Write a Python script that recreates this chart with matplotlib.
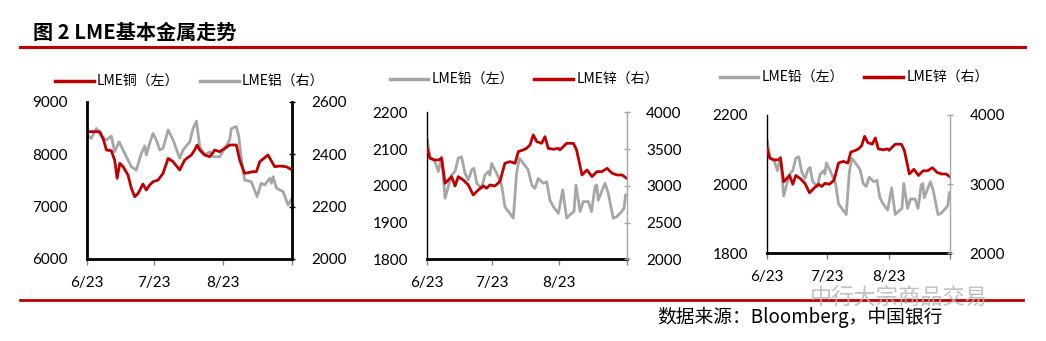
import matplotlib
matplotlib.use('Agg')
from matplotlib import pyplot as plt
from matplotlib.lines import Line2D

plt.rcParams['font.family'] = ['Noto Sans CJK SC', 'DejaVu Sans']

RED = '#C00000'
GRAY = '#A6A6A6'

# x values are days counted from 1 June 2023
month_ticks = [0, 30, 61, 92]
month_labels = ['6/23', '7/23', '8/23', '']

# panel 1: LME copper (left) and aluminium (right)
cu_day = [0, 5.7, 7.2, 8.7, 10.9, 12.4, 13.5, 14.7, 16.2, 18.4, 19.9, 21.4, 22.9,
          25.1, 26.6, 28.1, 29.6, 31.9, 34.1, 36.4, 38.6, 41.6, 43.8, 46.8, 48.3,
          49.4, 50.6, 52.8, 55.1, 57.3, 59.5, 61.8, 64.0, 67.0, 68.5, 70.7, 74.5,
          76.0, 77.5, 81.2, 84.2, 86.5, 89.5, 92.0]
cu_price = [8428, 8428, 8300, 8078, 8065, 7887, 7538, 7824, 7760, 7600, 7347, 7188,
            7250, 7430, 7315, 7411, 7474, 7506, 7633, 7919, 7856, 7697, 7887, 7983,
            8078, 8174, 8078, 7983, 7951, 8078, 8046, 8110, 8174, 8174, 7887, 7633,
            7665, 7665, 7856, 7983, 7760, 7773, 7760, 7697]

al_day = [0, 1.9, 4.2, 6.4, 8.7, 10.9, 12.4, 14.4, 16.9, 19.9, 22.1, 24.4, 25.9,
          26.6, 28.1, 29.6, 31.1, 32.6, 34.1, 36.4, 38.6, 41.6, 43.1, 46.1, 47.6,
          49.1, 50.6, 52.8, 55.1, 56.6, 59.5, 61.8, 64.0, 64.8, 67.0, 68.1, 69.3,
          70.7, 73.7, 76.3, 78.2, 79.7, 82.0, 82.7, 83.5, 85.0, 88.0, 90.2, 92.0]
al_price = [2473, 2460, 2498, 2467, 2454, 2469, 2409, 2447, 2403, 2352, 2339, 2403,
            2431, 2397, 2441, 2479, 2454, 2416, 2422, 2492, 2454, 2384, 2416, 2447,
            2498, 2526, 2428, 2397, 2409, 2390, 2390, 2422, 2454, 2498, 2505, 2467,
            2378, 2301, 2295, 2238, 2289, 2282, 2308, 2289, 2314, 2270, 2257, 2206,
            2231]

# panels 2 and 3: LME lead (left) and zinc (right)
pb_day = [0, 1.2, 3.5, 5.1, 6.6, 8.2, 9.7, 11.2, 12.8, 14.3, 15.8, 17.4, 18.9, 20.5,
          21.5, 22.8, 25.1, 26.6, 28.2, 28.9, 29.7, 32.0, 34.3, 35.8, 39.7, 41.2,
          42.5, 44.3, 46.6, 48.2, 49.7, 51.2, 53.5, 55.1, 56.6, 58.2, 60.5, 62.5,
          64.3, 65.8, 67.7, 68.6, 70.5, 72.0, 74.3, 75.8, 77.4, 78.2, 78.9, 82.0,
          83.5, 85.8, 87.4, 89.7, 90.8, 91.5]
pb_price = [2125, 2079, 2066, 2039, 2079, 1966, 1998, 2029, 2039, 2075, 2079, 2034,
            2016, 2043, 2048, 2007, 1993, 2029, 2039, 2029, 2061, 2034, 2002, 1943,
            1912, 2034, 2075, 2061, 2043, 2002, 1993, 2020, 2007, 2011, 1961, 1943,
            1925, 1989, 1912, 1921, 1930, 2002, 1930, 1957, 1957, 1930, 1998, 2002,
            1961, 2007, 1980, 1912, 1916, 1930, 1939, 1975]

zn_day = [0, 1.2, 3.5, 5.1, 6.6, 8.2, 9.7, 11.2, 12.8, 14.3, 16.6, 18.9, 21.2, 23.5,
          25.8, 27.4, 28.9, 31.2, 33.5, 35.8, 38.2, 40.5, 42.0, 44.3, 45.8, 47.4,
          48.9, 50.5, 52.8, 54.3, 55.8, 58.2, 60.5, 61.2, 64.3, 67.4, 68.9, 71.4,
          73.7, 76.0, 78.3, 80.6, 83.0, 85.3, 87.6, 89.9, 92.0]
zn_price = [3510, 3374, 3351, 3351, 3374, 3034, 3079, 3125, 2998, 3125, 3079, 3011,
            2875, 2943, 2998, 2966, 3011, 2998, 3057, 3306, 3329, 3306, 3465, 3488,
            3510, 3556, 3692, 3601, 3578, 3669, 3510, 3497, 3510, 3488, 3578, 3578,
            3488, 3147, 3215, 3125, 3193, 3193, 3238, 3170, 3147, 3147, 3102]


def style_axes(ax, ax2, right_color, spine_w):
    for s in ['top', 'right']:
        ax.spines[s].set_visible(False)
    for s in ['top', 'left', 'bottom']:
        ax2.spines[s].set_visible(False)
    ax.spines['left'].set_linewidth(spine_w)
    ax.spines['bottom'].set_linewidth(2)
    ax2.spines['right'].set_color(right_color)
    ax2.spines['right'].set_linewidth(spine_w if right_color == 'black' else 1)
    ax.set_xlim(0, 92)
    ax.set_xticks(month_ticks)
    ax.set_xticklabels(month_labels)
    ax.tick_params(axis='x', length=4, width=1, color='#808080', labelsize=11, pad=8)
    ax.tick_params(axis='y', length=0, labelsize=11, pad=14)
    ax2.tick_params(axis='y', length=4, width=1, direction='inout',
                    color=right_color, labelsize=11, pad=12)
    for lab in ax.get_xticklabels() + ax.get_yticklabels() + ax2.get_yticklabels():
        lab.set_fontfamily(['Lato', 'DejaVu Sans'])


fig = plt.figure(figsize=(10.46, 3.41), dpi=100)

# panel 1
ax1 = fig.add_axes([0.0832, 0.2405, 0.196, 0.4613])
ax1b = ax1.twinx()
ax1b.plot(al_day, al_price, color=GRAY, lw=2)
ax1.plot(cu_day, cu_price, color=RED, lw=2)
ax1.set_zorder(ax1b.get_zorder() + 1)
ax1.patch.set_visible(False)
ax1.set_ylim(6000, 9000)
ax1.set_yticks([6000, 7000, 8000, 9000])
ax1b.set_ylim(2000, 2600)
ax1b.set_yticks([2000, 2200, 2400, 2600])
style_axes(ax1, ax1b, 'black', 2)
ax1.legend(handles=[Line2D([], [], color=RED, lw=2.5), Line2D([], [], color=GRAY, lw=2.5)],
           labels=['LME铜（左）', 'LME铝（右）'], ncol=2, frameon=False, fontsize=10,
           handlelength=2.8, handletextpad=0.2, columnspacing=1.5,
           loc='center', bbox_to_anchor=(0.181, 0.7595), bbox_transform=fig.transFigure)

# panel 2 and 3 share the lead / zinc data
for rect, left_ticks, right_ticks, leg_xy in [
        ([0.4085, 0.2396, 0.1906, 0.4311], [1800, 1900, 2000, 2100, 2200],
         [2000, 2500, 3000, 3500, 4000], (0.501, 0.765)),
        ([0.7336, 0.2572, 0.1749, 0.4056], [1800, 2000, 2200],
         [2000, 3000, 4000], (0.8165, 0.771))]:
    ax = fig.add_axes(rect)
    axb = ax.twinx()
    ax.plot(pb_day, pb_price, color=GRAY, lw=2)
    axb.plot(zn_day, zn_price, color=RED, lw=2)
    ax.set_ylim(1800, 2200)
    ax.set_yticks(left_ticks)
    axb.set_ylim(2000, 4000)
    axb.set_yticks(right_ticks)
    style_axes(ax, axb, '#A6A6A6', 1)
    ax.legend(handles=[Line2D([], [], color=GRAY, lw=2.5), Line2D([], [], color=RED, lw=2.5)],
              labels=['LME铅（左）', 'LME锌（右）'], ncol=2, frameon=False, fontsize=10,
              handlelength=2.8, handletextpad=0.2, columnspacing=1.5,
              loc='center', bbox_to_anchor=leg_xy, bbox_transform=fig.transFigure)

# title, rules, source
fig.text(0.032, 0.906, '图 2 LME基本金属走势', fontsize=14.5, fontweight='bold',
         va='center', ha='left')
fig.add_artist(Line2D([0.019, 0.98], [0.863, 0.863], color=RED, lw=2.2,
                      transform=fig.transFigure))
fig.add_artist(Line2D([0.019, 0.978], [0.12, 0.12], color=RED, lw=2,
                      transform=fig.transFigure))
# watermark, kept just below the x tick labels of panel 3
fig.text(0.774, 0.128, '中行大宗商品交易', fontsize=16, color='#B5B5B5',
         va='center', ha='left', alpha=0.85)
fig.text(0.628, 0.07, '数据来源：Bloomberg，中国银行', fontsize=13.5,
         va='center', ha='left')

fig.savefig('out.png', dpi=100)
